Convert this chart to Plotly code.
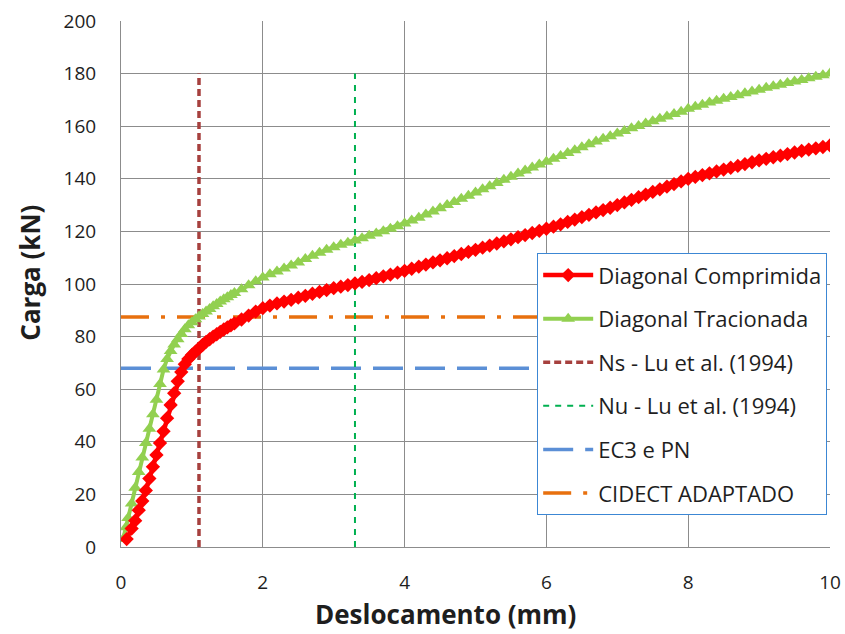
import plotly.graph_objects as go

# ---- data ----
comp_x = [0.08, 0.15, 0.2, 0.25, 0.3, 0.35, 0.4, 0.45, 0.5, 0.55, 0.6, 0.65, 0.7, 0.75, 0.8, 0.85, 0.9, 0.95,
          1.0, 1.05, 1.1, 1.15, 1.2, 1.25, 1.3, 1.35, 1.4, 1.45, 1.5, 1.55, 1.6, 1.7, 1.8, 1.9,
          2.0, 2.1, 2.2, 2.3, 2.4, 2.5, 2.6, 2.7, 2.8, 2.9, 3.0, 3.1, 3.2, 3.3, 3.4, 3.5, 3.6, 3.7, 3.8, 3.9,
          4.0, 4.1, 4.2, 4.3, 4.4, 4.5, 4.6, 4.7, 4.8, 4.9, 5.0, 5.1, 5.2, 5.3, 5.4, 5.5, 5.6, 5.7, 5.8, 5.9,
          6.0, 6.1, 6.2, 6.3, 6.4, 6.5, 6.6, 6.7, 6.8, 6.9, 7.0, 7.1, 7.2, 7.3, 7.4, 7.5, 7.6, 7.7, 7.8, 7.9,
          8.0, 8.1, 8.2, 8.3, 8.4, 8.5, 8.6, 8.7, 8.8, 8.9, 9.0, 9.1, 9.2, 9.3, 9.4, 9.5, 9.6, 9.7, 9.8, 9.9, 10.0]
comp_y = [3, 7, 10, 14, 17.5, 21.5, 26, 30.5, 35, 39.5, 44, 49, 54, 58.5, 63, 66.5, 69.5, 71.5,
          73, 74.3, 75.5, 76.8, 78, 79, 80, 80.9, 81.8, 82.7, 83.5, 84.3, 85, 86.5, 88, 89.5,
          90.8, 91.8, 92.6, 93.3, 94, 94.8, 95.5, 96.3, 97, 97.7, 98.4, 99, 99.6, 100.2, 100.8, 101.5, 102.2, 102.9, 103.6, 104.3,
          105, 105.8, 106.6, 107.4, 108.2, 109, 109.8, 110.6, 111.4, 112.2, 113, 113.8, 114.6, 115.4, 116.2, 117, 117.8, 118.6, 119.4, 120.2,
          121, 121.8, 122.7, 123.6, 124.5, 125.4, 126.3, 127.2, 128.1, 129, 130, 131, 132, 133, 134, 135, 136, 137, 138, 139,
          140, 140.7, 141.4, 142.1, 142.8, 143.5, 144.2, 144.9, 145.6, 146.3, 147, 147.6, 148.2, 148.8, 149.4, 150, 150.6, 151.1, 151.6, 152.1, 152.7]

trac_x = [0.03, 0.07, 0.1, 0.15, 0.2, 0.25, 0.3, 0.35, 0.4, 0.45, 0.5, 0.55, 0.6, 0.65, 0.7, 0.75, 0.8, 0.85, 0.9, 0.95,
          1.0, 1.05, 1.1, 1.15, 1.2, 1.25, 1.3, 1.35, 1.4, 1.45, 1.5, 1.55, 1.6, 1.7, 1.8, 1.9,
          2.0, 2.1, 2.2, 2.3, 2.4, 2.5, 2.6, 2.7, 2.8, 2.9, 3.0, 3.1, 3.2, 3.3, 3.4, 3.5, 3.6, 3.7, 3.8, 3.9,
          4.0, 4.1, 4.2, 4.3, 4.4, 4.5, 4.6, 4.7, 4.8, 4.9, 5.0, 5.1, 5.2, 5.3, 5.4, 5.5, 5.6, 5.7, 5.8, 5.9,
          6.0, 6.1, 6.2, 6.3, 6.4, 6.5, 6.6, 6.7, 6.8, 6.9, 7.0, 7.1, 7.2, 7.3, 7.4, 7.5, 7.6, 7.7, 7.8, 7.9,
          8.0, 8.1, 8.2, 8.3, 8.4, 8.5, 8.6, 8.7, 8.8, 8.9, 9.0, 9.1, 9.2, 9.3, 9.4, 9.5, 9.6, 9.7, 9.8, 9.9, 10.0]
trac_y = [3, 7.5, 11, 16.5, 22.5, 28.5, 34, 39.5, 45, 50.5, 56, 62, 67.5, 71.5, 74.5, 77, 79, 81, 82.8, 84.3,
          85.5, 86.6, 87.6, 88.6, 89.5, 90.5, 91.5, 92.4, 93.3, 94.2, 95, 95.8, 96.6, 98, 99.5, 101,
          102.5, 103.7, 104.8, 105.9, 107, 108.2, 109.5, 110.7, 111.9, 113, 114, 114.9, 115.7, 116.5, 117.4, 118.3, 119.2, 120.1, 121, 122,
          123, 124.1, 125.2, 126.4, 127.6, 128.8, 130, 131.2, 132.4, 133.6, 134.8, 136, 137.2, 138.4, 139.6, 140.8, 142, 143.2, 144.3, 145.4,
          146.5, 147.6, 148.7, 149.8, 150.9, 152, 153.1, 154.2, 155.2, 156.2, 157.2, 158.2, 159.2, 160.1, 161, 161.9, 162.8, 163.7, 164.6, 165.5,
          166.6, 167.4, 168.2, 169, 169.7, 170.4, 171.1, 171.8, 172.5, 173.2, 173.9, 174.6, 175.2, 175.8, 176.4, 177, 177.6, 178.2, 178.8, 179.4, 180]

ns_x = [1.1, 1.1]
ns_y = [0, 180]
nu_x = [3.3, 3.3]
nu_y = [0, 180]
ec3_x = [0, 10]
ec3_y = [68, 68]
cidect_x = [0, 10]
cidect_y = [87.5, 87.5]

x_ticks = [0, 2, 4, 6, 8, 10]
y_ticks = list(range(0, 201, 20))

x_title = "Deslocamento (mm)"
y_title = "Carga (kN)"

FONT = "'Open Sans', Lato, sans-serif"
TXT = "#1e1e1e"

fig = go.Figure()

fig.add_trace(go.Scatter(x=ec3_x, y=ec3_y, mode="lines", name="EC3 e PN", legendgroup="e", legendrank=5,
                         line=dict(color="#5b8fd6", width=3.5, dash="30px,12px")))
fig.add_trace(go.Scatter(x=cidect_x, y=cidect_y, mode="lines", name="CIDECT ADAPTADO", legendgroup="f", legendrank=6,
                         line=dict(color="#e8700e", width=3.5, dash="28px,12px,4px,12px")))
fig.add_trace(go.Scatter(x=ns_x, y=ns_y, mode="lines", name="Ns - Lu et al. (1994)", legendgroup="c", legendrank=3,
                         line=dict(color="#a6403e", width=3.5, dash="7px,4px")))
fig.add_trace(go.Scatter(x=nu_x, y=nu_y, mode="lines", name="Nu - Lu et al. (1994)", legendgroup="d", legendrank=4,
                         line=dict(color="#00b050", width=2, dash="6px,6px")))
fig.add_trace(go.Scatter(x=trac_x, y=trac_y, mode="lines+markers", name="Diagonal Tracionada", legendgroup="b", legendrank=2,
                         line=dict(color="#92d050", width=4),
                         marker=dict(symbol="triangle-up", size=12, color="#92d050")))
fig.add_trace(go.Scatter(x=comp_x, y=comp_y, mode="lines+markers", name="Diagonal Comprimida", legendgroup="a", legendrank=1,
                         line=dict(color="#ff0000", width=4.5),
                         marker=dict(symbol="diamond", size=11, color="#ff0000")))

axis_common = dict(showgrid=True, gridcolor="#8c8c8c", gridwidth=1, showline=True, linecolor="#8c8c8c",
                   linewidth=1, zeroline=False, ticks="", automargin=False,
                   tickfont=dict(family=FONT, size=19, color=TXT))

fig.update_layout(
    width=845, height=634,
    margin=dict(l=121, r=15, t=21, b=87),
    paper_bgcolor="white", plot_bgcolor="white",
    font=dict(family=FONT, color=TXT),
    xaxis=dict(range=[0, 10], tickvals=x_ticks, ticklabelstandoff=18, **axis_common),
    yaxis=dict(range=[0, 200], tickvals=y_ticks, ticklabelstandoff=20, **axis_common),
    legend=dict(x=0.587, y=0.5585, xanchor="left", yanchor="top",
                bgcolor="white", bordercolor="#3c87d4", borderwidth=1,
                font=dict(family=FONT, size=22, color=TXT),
                traceorder="grouped", tracegroupgap=12, itemwidth=50),
    showlegend=True,
    annotations=[
        dict(text="<b>" + x_title + "</b>", xref="paper", yref="paper", x=0.457, y=-0.127,
             xanchor="center", yanchor="middle", showarrow=False,
             font=dict(family=FONT, size=26, color=TXT)),
        dict(text="<b>" + y_title + "</b>", xref="paper", yref="paper", x=-0.128, y=0.522,
             xanchor="center", yanchor="middle", showarrow=False, textangle=-90,
             font=dict(family=FONT, size=26, color=TXT)),
    ],
)

fig.write_html("out.html")
